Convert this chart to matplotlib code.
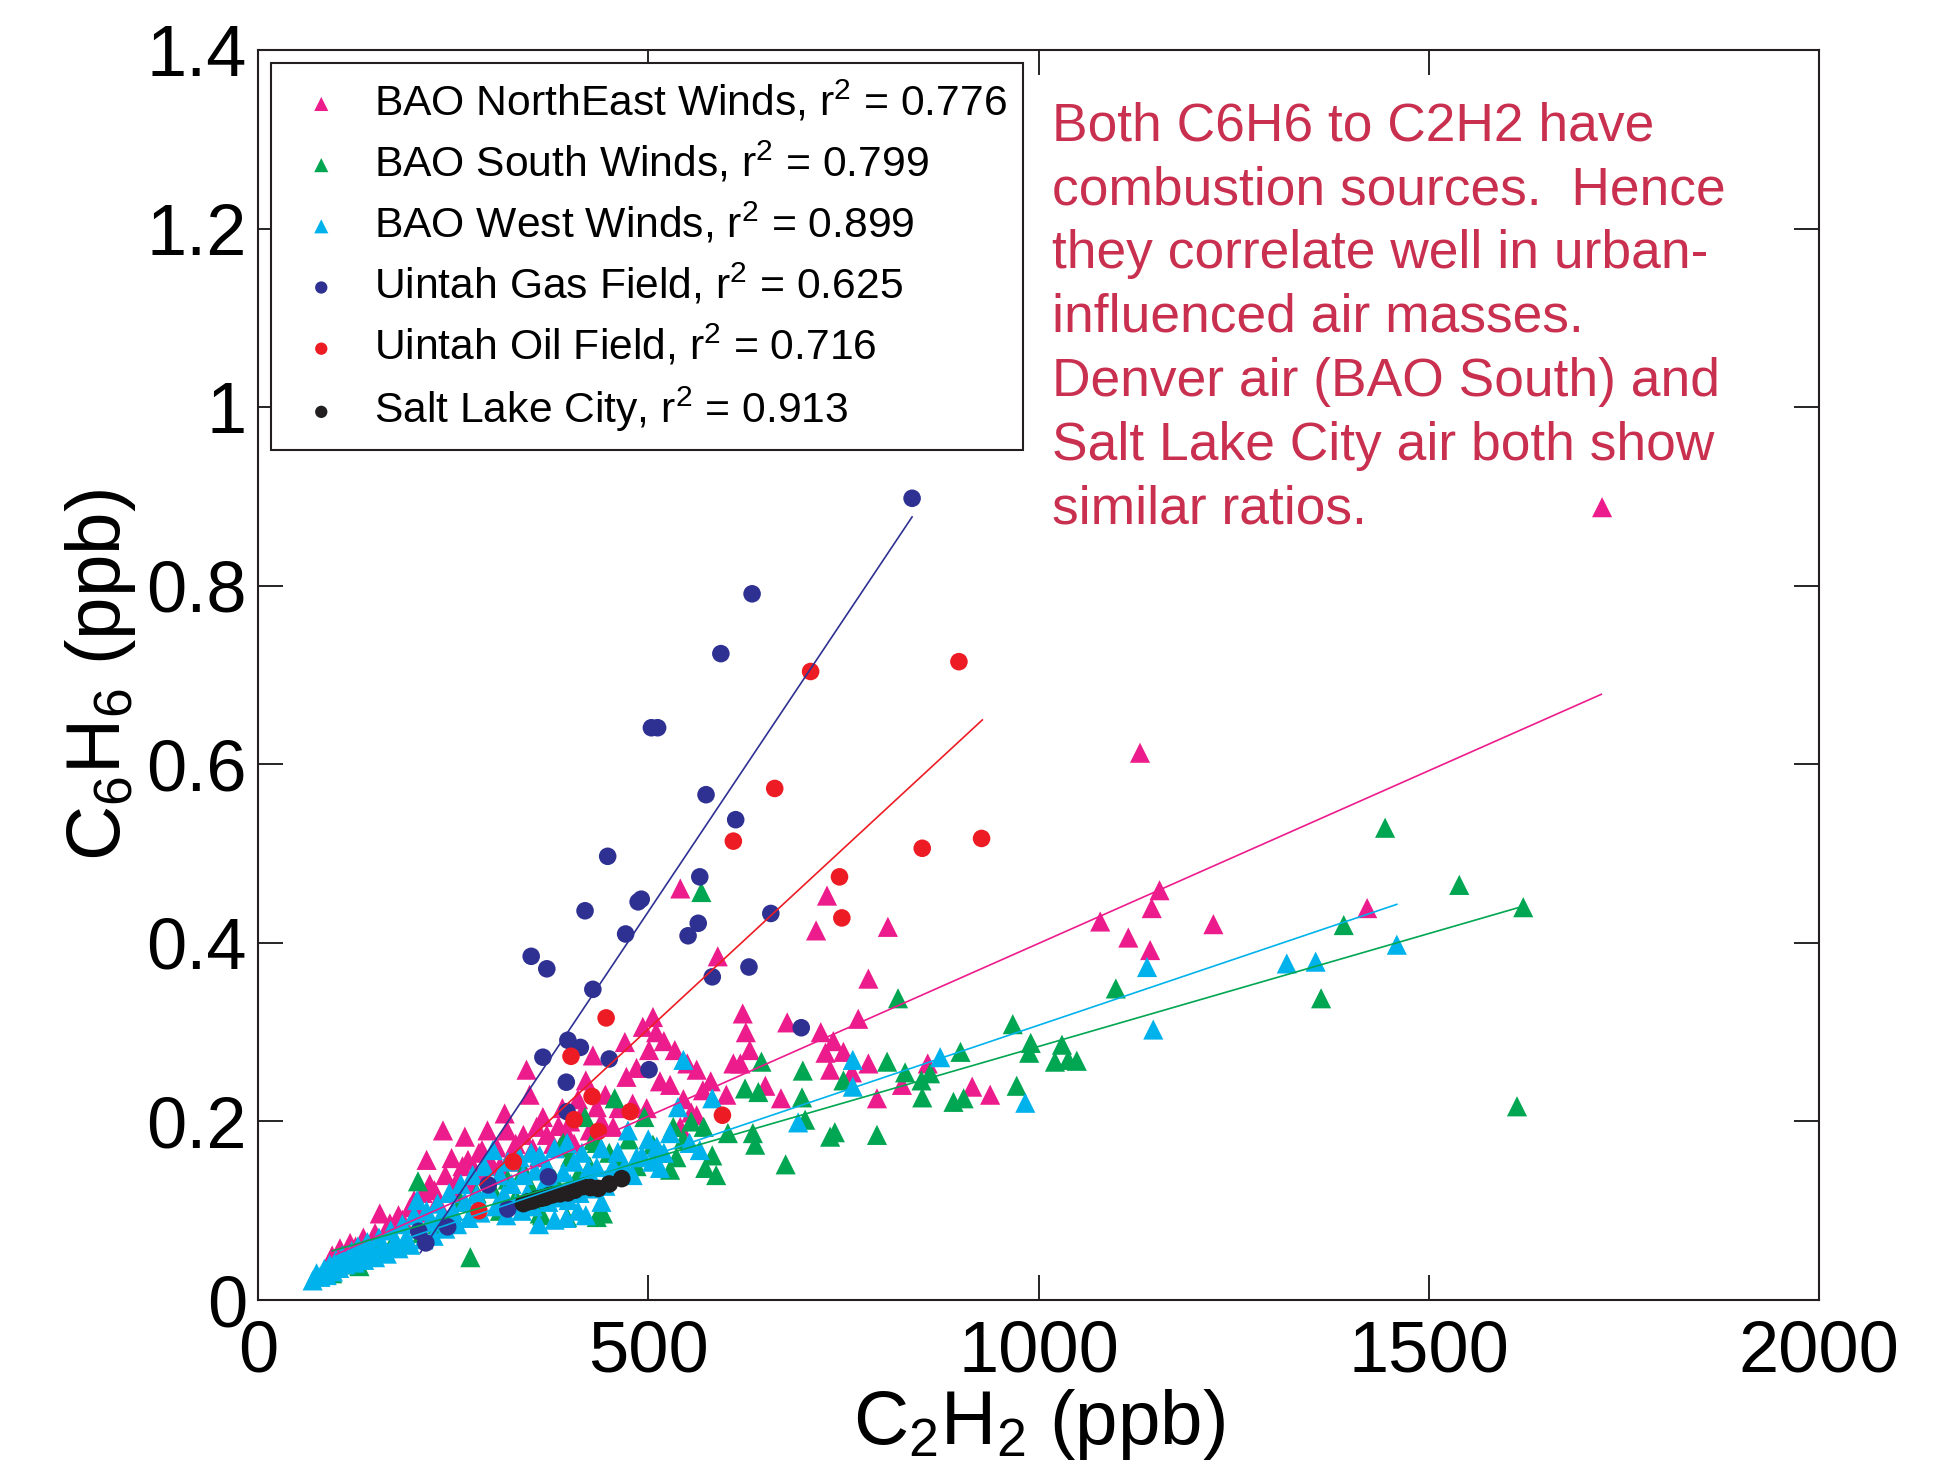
import matplotlib
matplotlib.use("Agg")
import matplotlib.pyplot as plt
import numpy as np

plt.rcParams['font.family'] = ['Liberation Sans', 'DejaVu Sans']
plt.rcParams['mathtext.default'] = 'regular'

# BAO NorthEast winds (C2H2 ppb, C6H6 ppb)
ne_x = [95, 105, 118, 125, 135, 150, 156, 165, 169, 180, 185, 195, 200, 205, 211, 216, 220, 226, 230, 237,
        240, 248, 250, 255, 262, 265, 269, 272, 278, 283, 287, 290, 294, 298, 306, 310, 316, 319, 325, 330,
        335, 340, 344, 348, 352, 357, 360, 365, 370, 378, 385, 390, 396, 400, 405, 410, 415, 420, 425, 429,
        434, 440, 445, 455, 462, 470, 472, 480, 485, 493, 498, 501, 506, 510, 515, 520, 528, 534, 541, 541,
        545, 550, 555, 562, 562, 570, 580, 589, 600, 609, 618, 621, 625, 630, 650, 670, 678, 715, 721, 727,
        729, 733, 737, 750, 761, 769, 782, 782, 793, 807, 825, 858, 915, 938, 1079, 1115, 1130, 1143, 1145,
        1155, 1224, 1421, 1722]
ne_y = [0.050, 0.058, 0.064, 0.060, 0.070, 0.075, 0.097, 0.080, 0.086, 0.095, 0.090, 0.104, 0.112, 0.098,
        0.120, 0.157, 0.130, 0.123, 0.110, 0.190, 0.140, 0.159, 0.125, 0.134, 0.150, 0.183, 0.157, 0.130,
        0.145, 0.165, 0.168, 0.140, 0.190, 0.155, 0.171, 0.150, 0.209, 0.190, 0.165, 0.175, 0.155, 0.185,
        0.258, 0.230, 0.170, 0.194, 0.160, 0.205, 0.185, 0.175, 0.195, 0.215, 0.187, 0.200, 0.175, 0.225,
        0.210, 0.246, 0.190, 0.274, 0.216, 0.200, 0.230, 0.194, 0.215, 0.289, 0.250, 0.220, 0.260, 0.306,
        0.215, 0.280, 0.317, 0.300, 0.245, 0.290, 0.241, 0.280, 0.194, 0.461, 0.225, 0.265, 0.210, 0.258,
        0.207, 0.235, 0.245, 0.385, 0.230, 0.265, 0.265, 0.321, 0.300, 0.280, 0.240, 0.226, 0.311, 0.414,
        0.300, 0.277, 0.453, 0.258, 0.290, 0.278, 0.255, 0.315, 0.265, 0.360, 0.226, 0.418, 0.241, 0.265,
        0.239, 0.230, 0.424, 0.406, 0.613, 0.392, 0.439, 0.459, 0.421, 0.439, 0.888]

# BAO South winds
so_x = [95, 110, 130, 150, 170, 190, 205, 210, 230, 250, 260, 272, 280, 300, 310, 320, 330, 340, 350, 361,
        364, 370, 380, 387, 391, 396, 400, 410, 419, 425, 429, 434, 434, 442, 450, 457, 465, 475, 485, 495,
        506, 515, 528, 532, 536, 545, 555, 568, 571, 573, 582, 587, 602, 624, 634, 637, 641, 645, 676, 697,
        698, 701, 733, 739, 750, 793, 806, 820, 829, 850, 851, 861, 891, 900, 904, 967, 972, 988, 990, 1021,
        1030, 1038, 1049, 1099, 1362, 1391, 1444, 1539, 1613, 1621]
so_y = [0.030, 0.040, 0.038, 0.055, 0.060, 0.068, 0.133, 0.075, 0.085, 0.095, 0.110, 0.048, 0.120, 0.125,
        0.100, 0.135, 0.115, 0.145, 0.125, 0.097, 0.095, 0.150, 0.135, 0.171, 0.176, 0.093, 0.160, 0.140,
        0.205, 0.150, 0.179, 0.176, 0.093, 0.097, 0.165, 0.226, 0.155, 0.180, 0.150, 0.205, 0.174, 0.165,
        0.146, 0.194, 0.160, 0.180, 0.200, 0.457, 0.194, 0.148, 0.162, 0.140, 0.187, 0.237, 0.187, 0.174,
        0.233, 0.267, 0.152, 0.227, 0.257, 0.202, 0.183, 0.188, 0.246, 0.185, 0.267, 0.338, 0.255, 0.246,
        0.227, 0.254, 0.222, 0.278, 0.226, 0.309, 0.240, 0.277, 0.288, 0.267, 0.286, 0.269, 0.268, 0.349,
        0.338, 0.420, 0.529, 0.465, 0.217, 0.440]

# BAO West winds
we_x = [70, 75, 80, 85, 88, 92, 96, 100, 104, 108, 112, 116, 120, 124, 128, 132, 136, 140, 145, 150,
        155, 160, 165, 170, 175, 180, 185, 190, 195, 200, 204, 208, 212, 216, 220, 225, 230, 235, 240, 245,
        250, 255, 260, 265, 270, 275, 280, 285, 290, 295, 301, 305, 310, 315, 318, 320, 325, 330, 335, 338,
        340, 345, 350, 352, 355, 360, 361, 365, 370, 372, 375, 380, 380, 385, 391, 395, 396, 398, 400, 405,
        410, 412, 415, 420, 423, 428, 430, 434, 440, 440, 445, 450, 455, 461, 470, 474, 480, 485, 492, 500,
        505, 511, 515, 520, 528, 538, 545, 553, 566, 582, 692, 762, 762, 874, 983, 1139, 1147, 1318, 1355,
        1459]
we_y = [0.022, 0.030, 0.026, 0.035, 0.028, 0.040, 0.032, 0.045, 0.036, 0.050, 0.040, 0.048, 0.055, 0.042,
        0.060, 0.050, 0.045, 0.065, 0.055, 0.048, 0.070, 0.060, 0.052, 0.078, 0.065, 0.058, 0.085, 0.070,
        0.062, 0.095, 0.112, 0.080, 0.068, 0.100, 0.088, 0.072, 0.108, 0.095, 0.080, 0.120, 0.100, 0.085,
        0.130, 0.110, 0.092, 0.140, 0.118, 0.098, 0.150, 0.125, 0.168, 0.105, 0.140, 0.118, 0.095, 0.155,
        0.130, 0.108, 0.160, 0.100, 0.140, 0.120, 0.165, 0.105, 0.145, 0.085, 0.162, 0.128, 0.150, 0.110,
        0.135, 0.170, 0.090, 0.115, 0.143, 0.092, 0.176, 0.112, 0.130, 0.155, 0.100, 0.120, 0.165, 0.095,
        0.146, 0.135, 0.125, 0.149, 0.170, 0.110, 0.128, 0.140, 0.150, 0.166, 0.150, 0.190, 0.140, 0.160,
        0.162, 0.180, 0.155, 0.172, 0.148, 0.165, 0.187, 0.216, 0.269, 0.176, 0.168, 0.226, 0.199, 0.269,
        0.239, 0.272, 0.221, 0.373, 0.303, 0.377, 0.379, 0.398]

# Uintah gas field
gas_x = [585, 838, 633, 593, 504, 512, 574, 612, 566, 657, 448, 419, 487, 491, 471, 564, 551, 350, 370,
         429, 629, 582, 696, 397, 413, 365, 450, 501, 395, 396, 372, 295, 320, 243, 206, 215]
gas_y = [0.964, 0.898, 0.791, 0.724, 0.641, 0.641, 0.566, 0.538, 0.474, 0.433, 0.497, 0.436, 0.446, 0.449,
         0.410, 0.422, 0.408, 0.385, 0.371, 0.348, 0.373, 0.362, 0.305, 0.291, 0.283, 0.272, 0.270, 0.258,
         0.244, 0.211, 0.138, 0.129, 0.102, 0.082, 0.077, 0.064]

# Uintah oil field
oil_x = [898, 708, 662, 609, 851, 927, 745, 748, 446, 401, 428, 477, 405, 436, 595, 327, 283]
oil_y = [0.715, 0.704, 0.573, 0.514, 0.506, 0.517, 0.474, 0.428, 0.316, 0.273, 0.228, 0.211, 0.202, 0.189,
         0.207, 0.155, 0.100]

# Salt Lake City
slc_x = [340, 346, 352, 357, 363, 368, 373, 378, 387, 397, 406, 416, 426, 436, 450, 466]
slc_y = [0.108, 0.110, 0.111, 0.113, 0.114, 0.115, 0.117, 0.118, 0.119, 0.120, 0.123, 0.127, 0.126, 0.125,
         0.130, 0.136]

labels = ["BAO NorthEast Winds, r$^2$ = 0.776", "BAO South Winds, r$^2$ = 0.799",
          "BAO West Winds, r$^2$ = 0.899", "Uintah Gas Field, r$^2$ = 0.625",
          "Uintah Oil Field, r$^2$ = 0.716", "Salt Lake City, r$^2$ = 0.913"]

# fit lines: slope, intercept, x range
fit_slope = [0.000387, 0.000253, 0.000295, 0.001308, 0.000809, 0.000238]
fit_icpt = [0.0124, 0.031, 0.0128, -0.219, -0.101, 0.027]
fit_x0 = [100, 95, 80, 208, 284, 340]
fit_x1 = [1721, 1621, 1459, 838, 928, 466]

colors = ["#EC1C8C", "#00A651", "#00B2EB", "#2E3192", "#ED1C24", "#231F20"]
markers = ["^", "^", "^", "o", "o", "o"]

note = ("Both C6H6 to C2H2 have\ncombustion sources.  Hence\nthey correlate well in urban-\n"
        "influenced air masses.\nDenver air (BAO South) and\nSalt Lake City air both show\nsimilar ratios.")

fig = plt.figure(figsize=(19.56, 14.68), dpi=100)
ax = fig.add_axes([0.1319, 0.1144, 0.7981, 0.8515])

series = [(ne_x, ne_y), (so_x, so_y), (we_x, we_y), (gas_x, gas_y), (oil_x, oil_y), (slc_x, slc_y)]
for i, (xs, ys) in enumerate(series):
    s = 210 if markers[i] == "^" else 160
    ax.scatter(xs, ys, s=s, marker=markers[i], color=colors[i], edgecolors="none",
               label=labels[i], zorder=2 + i * 0.1)

for i in range(len(series)):
    lx = np.array([fit_x0[i], fit_x1[i]])
    ax.plot(lx, fit_slope[i] * lx + fit_icpt[i], color=colors[i], lw=1.2, zorder=5)

ax.set_xlim(0, 2000)
ax.set_ylim(0, 1.4)
ax.set_xticks([0, 500, 1000, 1500, 2000])
ax.set_yticks([0, 0.2, 0.4, 0.6, 0.8, 1.0, 1.2, 1.4])
ax.set_yticklabels(["0", "0.2", "0.4", "0.6", "0.8", "1", "1.2", "1.4"])
ax.tick_params(direction="in", length=18, width=1.2, labelsize=52, top=True, right=True, pad=8)
ax.tick_params(axis="x", pad=14)
for sp in ax.spines.values():
    sp.set_linewidth(1.5)
    sp.set_color("#231F20")

ax.set_xlabel("C$_2$H$_2$ (ppb)", fontsize=55, labelpad=0)
ax.set_ylabel("C$_6$H$_6$ (ppb)", fontsize=55, labelpad=6)

leg = ax.legend(loc="upper left", bbox_to_anchor=(0.0083, 0.990), borderaxespad=0, fontsize=30.7,
                markerscale=0.7, fancybox=False, edgecolor="#231F20", framealpha=1,
                labelspacing=0.37, handletextpad=0.44, borderpad=0.38, handlelength=1.6)
leg.get_frame().set_linewidth(1.5)

fig.text(0.538, 0.931, note, fontsize=38.4, color="#C9304F", va="top", ha="left", linespacing=1.355)

fig.savefig("out.png", dpi=100)
